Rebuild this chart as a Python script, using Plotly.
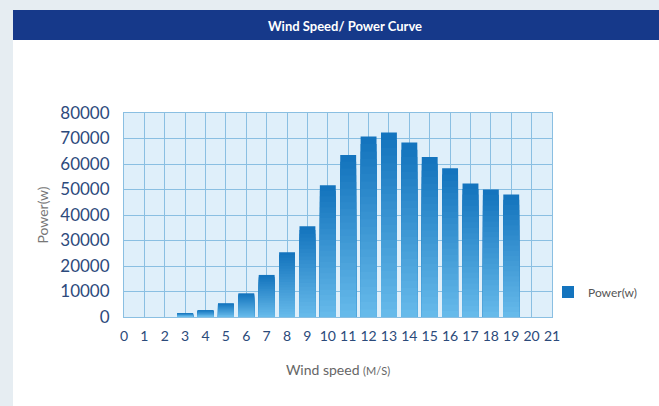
import plotly.graph_objects as go

wind_speed = [3, 4, 5, 6, 7, 8, 9, 10, 11, 12, 13, 14, 15, 16, 17, 18, 19]
power_w = [1500, 2700, 5400, 9300, 16500, 25400, 35600, 51700, 63500, 70800,
           72400, 68400, 62700, 58300, 52400, 50000, 48000]
x_ticks = list(range(0, 22))
y_ticks = list(range(0, 80001, 10000))

W, H = 659, 406
PL, PR, PT, PB = 124, 552, 113, 317  # plot area in pixels

def px(x):
    return x / W

def py(y):
    return 1 - y / H

top_rgb = (20, 116, 190)
bot_rgb = (102, 186, 234)
N = 24

fig = go.Figure()
for k in range(N):
    f = 1 - k / N
    t = k / (N - 1)
    c = tuple(int(top_rgb[i] + (bot_rgb[i] - top_rgb[i]) * t) for i in range(3))
    fig.add_trace(go.Bar(
        x=wind_speed, y=[v * f for v in power_w],
        name="Power(w)", showlegend=(k == 0),
        marker=dict(color=f"rgb{c}", line=dict(width=0)),
        width=0.78,
    ))

fig.update_layout(
    width=W, height=H, autosize=False,
    barmode="overlay",
    paper_bgcolor="white",
    plot_bgcolor="#dfeffa",
    margin=dict(l=0, r=0, t=0, b=0, pad=0, autoexpand=False),
    font=dict(family="Lato, Noto Sans, sans-serif"),
    showlegend=True,
    legend=dict(x=px(548), y=py(292), xanchor="left", yanchor="middle",
                font=dict(size=12, color="#555555"), bgcolor="rgba(0,0,0,0)",
                itemwidth=30),
    xaxis=dict(domain=[px(PL), px(PR)], automargin=False),
    yaxis=dict(domain=[py(PB), py(PT)], automargin=False),
    shapes=[
        dict(type="rect", xref="paper", yref="paper", x0=0, x1=1, y0=py(10), y1=1,
             fillcolor="#e6edf2", line=dict(width=0), layer="below"),
        dict(type="rect", xref="paper", yref="paper", x0=0, x1=px(13), y0=0, y1=1,
             fillcolor="#e6edf2", line=dict(width=0), layer="below"),
        dict(type="rect", xref="paper", yref="paper", x0=px(13), x1=1, y0=py(40), y1=py(10),
             fillcolor="#16398a", line=dict(width=0), layer="below"),
    ],
    annotations=[
        dict(text="<b>Wind Speed/ Power Curve</b>", xref="paper", yref="paper",
             x=px(345), y=py(26), xanchor="center", yanchor="middle",
             showarrow=False, font=dict(size=13, color="white", family="Lato, sans-serif")),
    ],
)

fig.update_xaxes(
    range=[0, 21], tickvals=x_ticks, ticktext=[str(t) for t in x_ticks],
    showgrid=True, gridcolor="#8abfe2", gridwidth=1,
    showline=True, linecolor="#8abfe2", mirror=True,
    zeroline=False, ticks="", tickfont=dict(size=14, color="#2b4a7a"),
    ticklabelstandoff=6,
    title=dict(text="Wind speed <span style='font-size:11px'>(M/S)</span>",
               font=dict(size=14, color="#666666"), standoff=22),
)
fig.update_yaxes(
    range=[0, 80000], tickvals=y_ticks, ticktext=[str(t) for t in y_ticks],
    showgrid=True, gridcolor="#8abfe2", gridwidth=1,
    showline=True, linecolor="#8abfe2", mirror=True,
    zeroline=False, ticks="", tickfont=dict(size=17, color="#2d4a7c"),
    ticklabelstandoff=10,
    title=dict(text="Power(w)", font=dict(size=14, color="#777777"), standoff=8),
)

fig.write_html("out.html", config={"displayModeBar": False},
               post_script="document.body.style.margin='0';document.body.style.overflow='hidden';")
